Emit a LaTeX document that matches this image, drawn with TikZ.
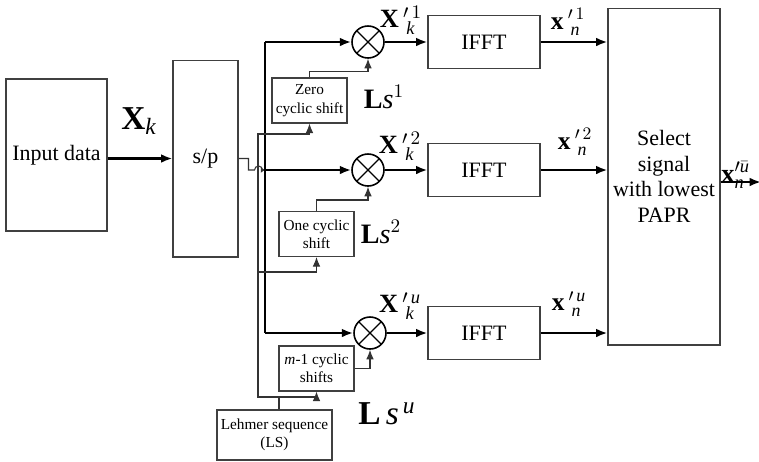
\documentclass[tikz,border=0pt]{standalone}
\usepackage{fontspec}
\setmainfont{Liberation Serif}
\usetikzlibrary{arrows.meta,calc}

\begin{document}
\begin{tikzpicture}[
    x=0.02cm, y=-0.02cm,
    block/.style = {
      draw=black!75,
      line width=0.6pt,
      align=center,
      inner sep=1pt,
      font=\fontsize{12.5}{14.5}\selectfont
    },
    shiftbox/.style = {
      draw=black!75,
      line width=0.6pt,
      align=center,
      inner sep=1pt,
      minimum width=1.5cm,
      minimum height=0.9cm,
      font=\fontsize{8.7}{10.5}\selectfont
    },
    mixer/.style = {
      circle, draw, line width=0.9pt, minimum size=0.64cm,
      path picture={\draw[line width=0.7pt]
        (path picture bounding box.north west) -- (path picture bounding box.south east)
        (path picture bounding box.north east) -- (path picture bounding box.south west);}
    },
    arrow/.style = {-{Latex[length=6.5pt,width=5pt]}, line width=1.4pt},
    feed/.style = {-{Latex[length=5.5pt,width=4.4pt]}, line width=0.6pt, draw=black!80},
    lbl/.style = {inner sep=0pt, font=\fontsize{15}{17}\selectfont}
  ]
\useasboundingbox (0,0) rectangle (759,461);

\node[block, minimum width=2.02cm, minimum height=3.04cm] (input) at (56.5,155) {Input data};
\node[block, minimum width=1.3cm, minimum height=3.94cm] (sp) at (205.5,158.5) {s/p};

\node[shiftbox] (zero) at (309.5,100.5) {Zero\\cyclic shift};
\node[shiftbox] (one) at (316.5,234) {One cyclic\\shift};
\node[shiftbox] (mone) at (316.5,368.5) {\textit{m}-1 cyclic\\shifts};
\node[shiftbox, minimum width=2.3cm, minimum height=1.0cm] (lehmer) at (274.5,435) {Lehmer sequence\\(LS)};

\node[mixer] (m1) at (368,42) {};
\node[mixer] (m2) at (368,170) {};
\node[mixer] (m3) at (370,333) {};

\node[block, minimum width=2.24cm, minimum height=1.06cm] (ifft1) at (484,42) {IFFT};
\node[block, minimum width=2.24cm, minimum height=1.06cm] (ifft2) at (484,170) {IFFT};
\node[block, minimum width=2.24cm, minimum height=1.06cm] (ifft3) at (484,333) {IFFT};

\node[block, minimum width=2.24cm, minimum height=6.74cm] (sel) at (664,176.5) {Select\\signal\\with lowest\\PAPR};

\coordinate (bus1) at (265,42);
\coordinate (bus2) at (265,170);
\coordinate (bus3) at (265,333);
\coordinate (ls) at (279,397);
\coordinate (tap) at (258,397);
\coordinate (t1) at (258,134);
\coordinate (t2) at (258,272);
\coordinate (out) at (761,182);

\draw[arrow] (input.east |- sp.west) -- (sp.west);
\draw[line width=0.6pt, draw=black!80, -{Latex[length=2.4pt,width=3.4pt]}] (sp.east) -- ++(10,0) -- ++(0,11.5) -- ++(6,0)
  arc[start angle=180, end angle=0, radius=0.08cm] -- (bus2);
\draw[line width=0.8pt] (bus1) -- (bus3);
\draw[arrow] (bus1) -- (m1);
\draw[arrow] (bus2) -- (m2);
\draw[arrow] (bus3) -- (m3);

\draw[feed] (lehmer.north -| ls) -- (ls) -| (mone.south);
\draw[feed] (ls) -- (tap) -- (t1) -| (zero.south);
\draw[feed] (t2) -| (one.south);
\draw[feed] (zero.north) -- ++(0,-6) -| (m1.south);
\draw[feed] (one.north) -- ++(0,-11) -| (m2.south);
\draw[feed] (mone.east) -| (m3.south);

\draw[arrow] (m1) -- (ifft1);
\draw[arrow] (m2) -- (ifft2);
\draw[arrow] (m3) -- (ifft3);
\draw[arrow] (ifft1) -- (ifft1 -| sel.west);
\draw[arrow] (ifft2) -- (ifft2 -| sel.west);
\draw[arrow] (ifft3) -- (ifft3 -| sel.west);
\draw[arrow] (sel.east |- out) -- (out);

\node[lbl, font=\fontsize{19}{21}\selectfont] (xk) at (139,121) {$\mathbf{X}_{\mathit{k}}$};
\node[lbl] (xk1) at (401,20) {$\mathbf{X}\,'^{\,1}_{\,\mathit{k}}$};
\node[lbl] (xk2) at (400,146) {$\mathbf{X}\,'^{\,2}_{\,\mathit{k}}$};
\node[lbl] (xku) at (400,306) {$\mathbf{X}\,'^{\,\mathit{u}}_{\,\mathit{k}}$};
\node[lbl, font=\fontsize{16}{18}\selectfont] (ls1) at (384,97) {$\mathbf{L}\mathit{s}^{1}$};
\node[lbl, font=\fontsize{16}{18}\selectfont] (ls2) at (381,232) {$\mathbf{L}\mathit{s}^{2}$};
\node[lbl, font=\fontsize{19}{21}\selectfont] (lsu) at (387,414) {$\mathbf{L}\,\mathit{s}^{\,\mathit{u}}$};
\node[lbl, font=\fontsize{14.5}{16}\selectfont] (xn1) at (568,22) {$\mathbf{x}\,'^{\,1}_{\,\mathit{n}}$};
\node[lbl, font=\fontsize{14.5}{16}\selectfont] (xn2) at (575,142) {$\mathbf{x}\,'^{\,2}_{\,\mathit{n}}$};
\node[lbl, font=\fontsize{14.5}{16}\selectfont] (xnu) at (569,304) {$\mathbf{x}\,'^{\,\mathit{u}}_{\,\mathit{n}}$};
\node[lbl, anchor=west] (xsel) at (721,175) {$\mathbf{x}'^{\bar{\mathit{u}}}_{\mathit{n}}$};
\end{tikzpicture}
\end{document}
